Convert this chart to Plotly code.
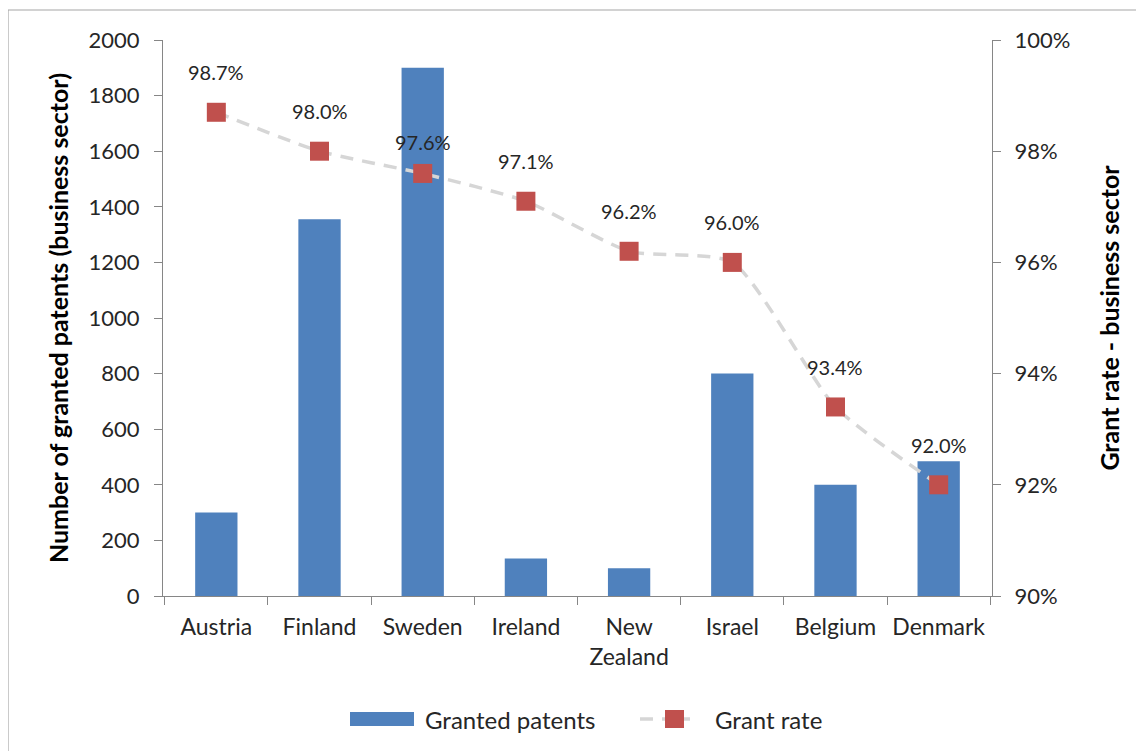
import plotly.graph_objects as go

countries = ["Austria", "Finland", "Sweden", "Ireland", "New Zealand", "Israel", "Belgium", "Denmark"]
category_labels = ["Austria", "Finland", "Sweden", "Ireland", "New<br>Zealand", "Israel", "Belgium", "Denmark"]
granted_patents = [300, 1355, 1900, 135, 100, 800, 400, 485]
grant_rate = [0.987, 0.980, 0.976, 0.971, 0.962, 0.960, 0.934, 0.920]
rate_labels = ["98.7%", "98.0%", "97.6%", "97.1%", "96.2%", "96.0%", "93.4%", "92.0%"]
left_ticks = [0, 200, 400, 600, 800, 1000, 1200, 1400, 1600, 1800, 2000]
right_ticks = [0.90, 0.92, 0.94, 0.96, 0.98, 1.00]
series_names = ["Granted patents", "Grant rate"]

FONT = "Lato"
TXT = "#262626"
BAR_COLOR = "#4F81BD"
MARK_COLOR = "#C0504D"
LINE_COLOR = "#D6D6D6"

# plot area (screen px) used for converting legend positions to paper coords
PX0, PX1, PY0, PY1 = 163, 992, 40, 596
def px(x):
    return (x - PX0) / (PX1 - PX0)
def py(y):
    return (PY1 - y) / (PY1 - PY0)

fig = go.Figure()
fig.add_trace(go.Bar(
    x=category_labels, y=granted_patents, name=series_names[0],
    marker=dict(color=BAR_COLOR, line=dict(width=0)), width=0.41, yaxis="y",
))
fig.add_trace(go.Scatter(
    x=category_labels, y=grant_rate, name=series_names[1], yaxis="y2",
    mode="lines+markers",
    line=dict(color=LINE_COLOR, width=3.5, dash="13px,9px", shape="spline", smoothing=0.6),
    marker=dict(symbol="square", size=19, color=MARK_COLOR, line=dict(width=0)),
))

for i, (c, r, lab) in enumerate(zip(category_labels, grant_rate, rate_labels)):
    fig.add_annotation(x=c, y=r, yref="y2", text=lab, showarrow=False,
                       yshift=31 if i == 2 else 40,
                       font=dict(family=FONT, size=20, color=TXT))

# outer chart border (left and top visible)
fig.add_shape(type="line", xref="paper", yref="paper", x0=px(8), x1=px(8), y0=py(800), y1=py(10),
              line=dict(color="#A6A6A6", width=1.2))
fig.add_shape(type="line", xref="paper", yref="paper", x0=px(8), x1=px(1200), y0=py(10), y1=py(10),
              line=dict(color="#A6A6A6", width=1.2))

# legend drawn manually to reproduce the wide bar swatch
LEG_Y = 719
fig.add_shape(type="rect", xref="paper", yref="paper", x0=px(350), x1=px(414), y0=py(LEG_Y + 7), y1=py(LEG_Y - 7),
              fillcolor=BAR_COLOR, line=dict(width=0))
fig.add_annotation(xref="paper", yref="paper", x=px(423), y=py(LEG_Y), xanchor="left", yanchor="middle",
                   text=series_names[0], showarrow=False, font=dict(family=FONT, size=24, color=TXT))
fig.add_shape(type="line", xref="paper", yref="paper", x0=px(640), x1=px(690), y0=py(LEG_Y), y1=py(LEG_Y),
              line=dict(color=LINE_COLOR, width=3.5, dash="13px,9px"))
fig.add_shape(type="rect", xref="paper", yref="paper", x0=px(665), x1=px(684), y0=py(LEG_Y + 9), y1=py(LEG_Y - 9),
              fillcolor=MARK_COLOR, line=dict(width=0))
fig.add_annotation(xref="paper", yref="paper", x=px(713), y=py(LEG_Y), xanchor="left", yanchor="middle",
                   text=series_names[1], showarrow=False, font=dict(family=FONT, size=24, color=TXT))

fig.update_layout(
    width=1144, height=751,
    margin=dict(l=155, r=160, t=32, b=163, autoexpand=False),
    paper_bgcolor="white", plot_bgcolor="white",
    font=dict(family=FONT, color=TXT),
    bargap=0.59,
    showlegend=False,
    xaxis=dict(
        type="category", tickson="boundaries", ticks="outside", ticklen=8, tickcolor="#868686",
        showline=True, linecolor="#868686", linewidth=1.2, showgrid=False, automargin=False,
        ticklabelstandoff=10,
        tickfont=dict(family=FONT, size=23, color=TXT),
    ),
    yaxis=dict(
        range=[0, 2000], tickvals=left_ticks, ticks="outside", ticklen=8, tickcolor="#868686",
        showline=True, linecolor="#868686", linewidth=1.2, showgrid=False, zeroline=False,
        automargin=False, ticklabelstandoff=10,
        tickfont=dict(family=FONT, size=22, color=TXT),
        title=dict(text="<b>Number of granted patents (business sector)</b>", standoff=12,
                   font=dict(family=FONT, size=25, color="#000000")),
    ),
    yaxis2=dict(
        overlaying="y", side="right", range=[0.90, 1.00], tickvals=right_ticks, tickformat=".0%",
        ticks="outside", ticklen=8, tickcolor="#868686", automargin=False, ticklabelstandoff=9,
        showline=True, linecolor="#868686", linewidth=1.2, showgrid=False, zeroline=False,
        tickfont=dict(family=FONT, size=22, color=TXT),
        title=dict(text="<b>Grant rate - business sector</b>", standoff=32,
                   font=dict(family=FONT, size=25, color="#000000")),
    ),
)

fig.write_html("out.html")
